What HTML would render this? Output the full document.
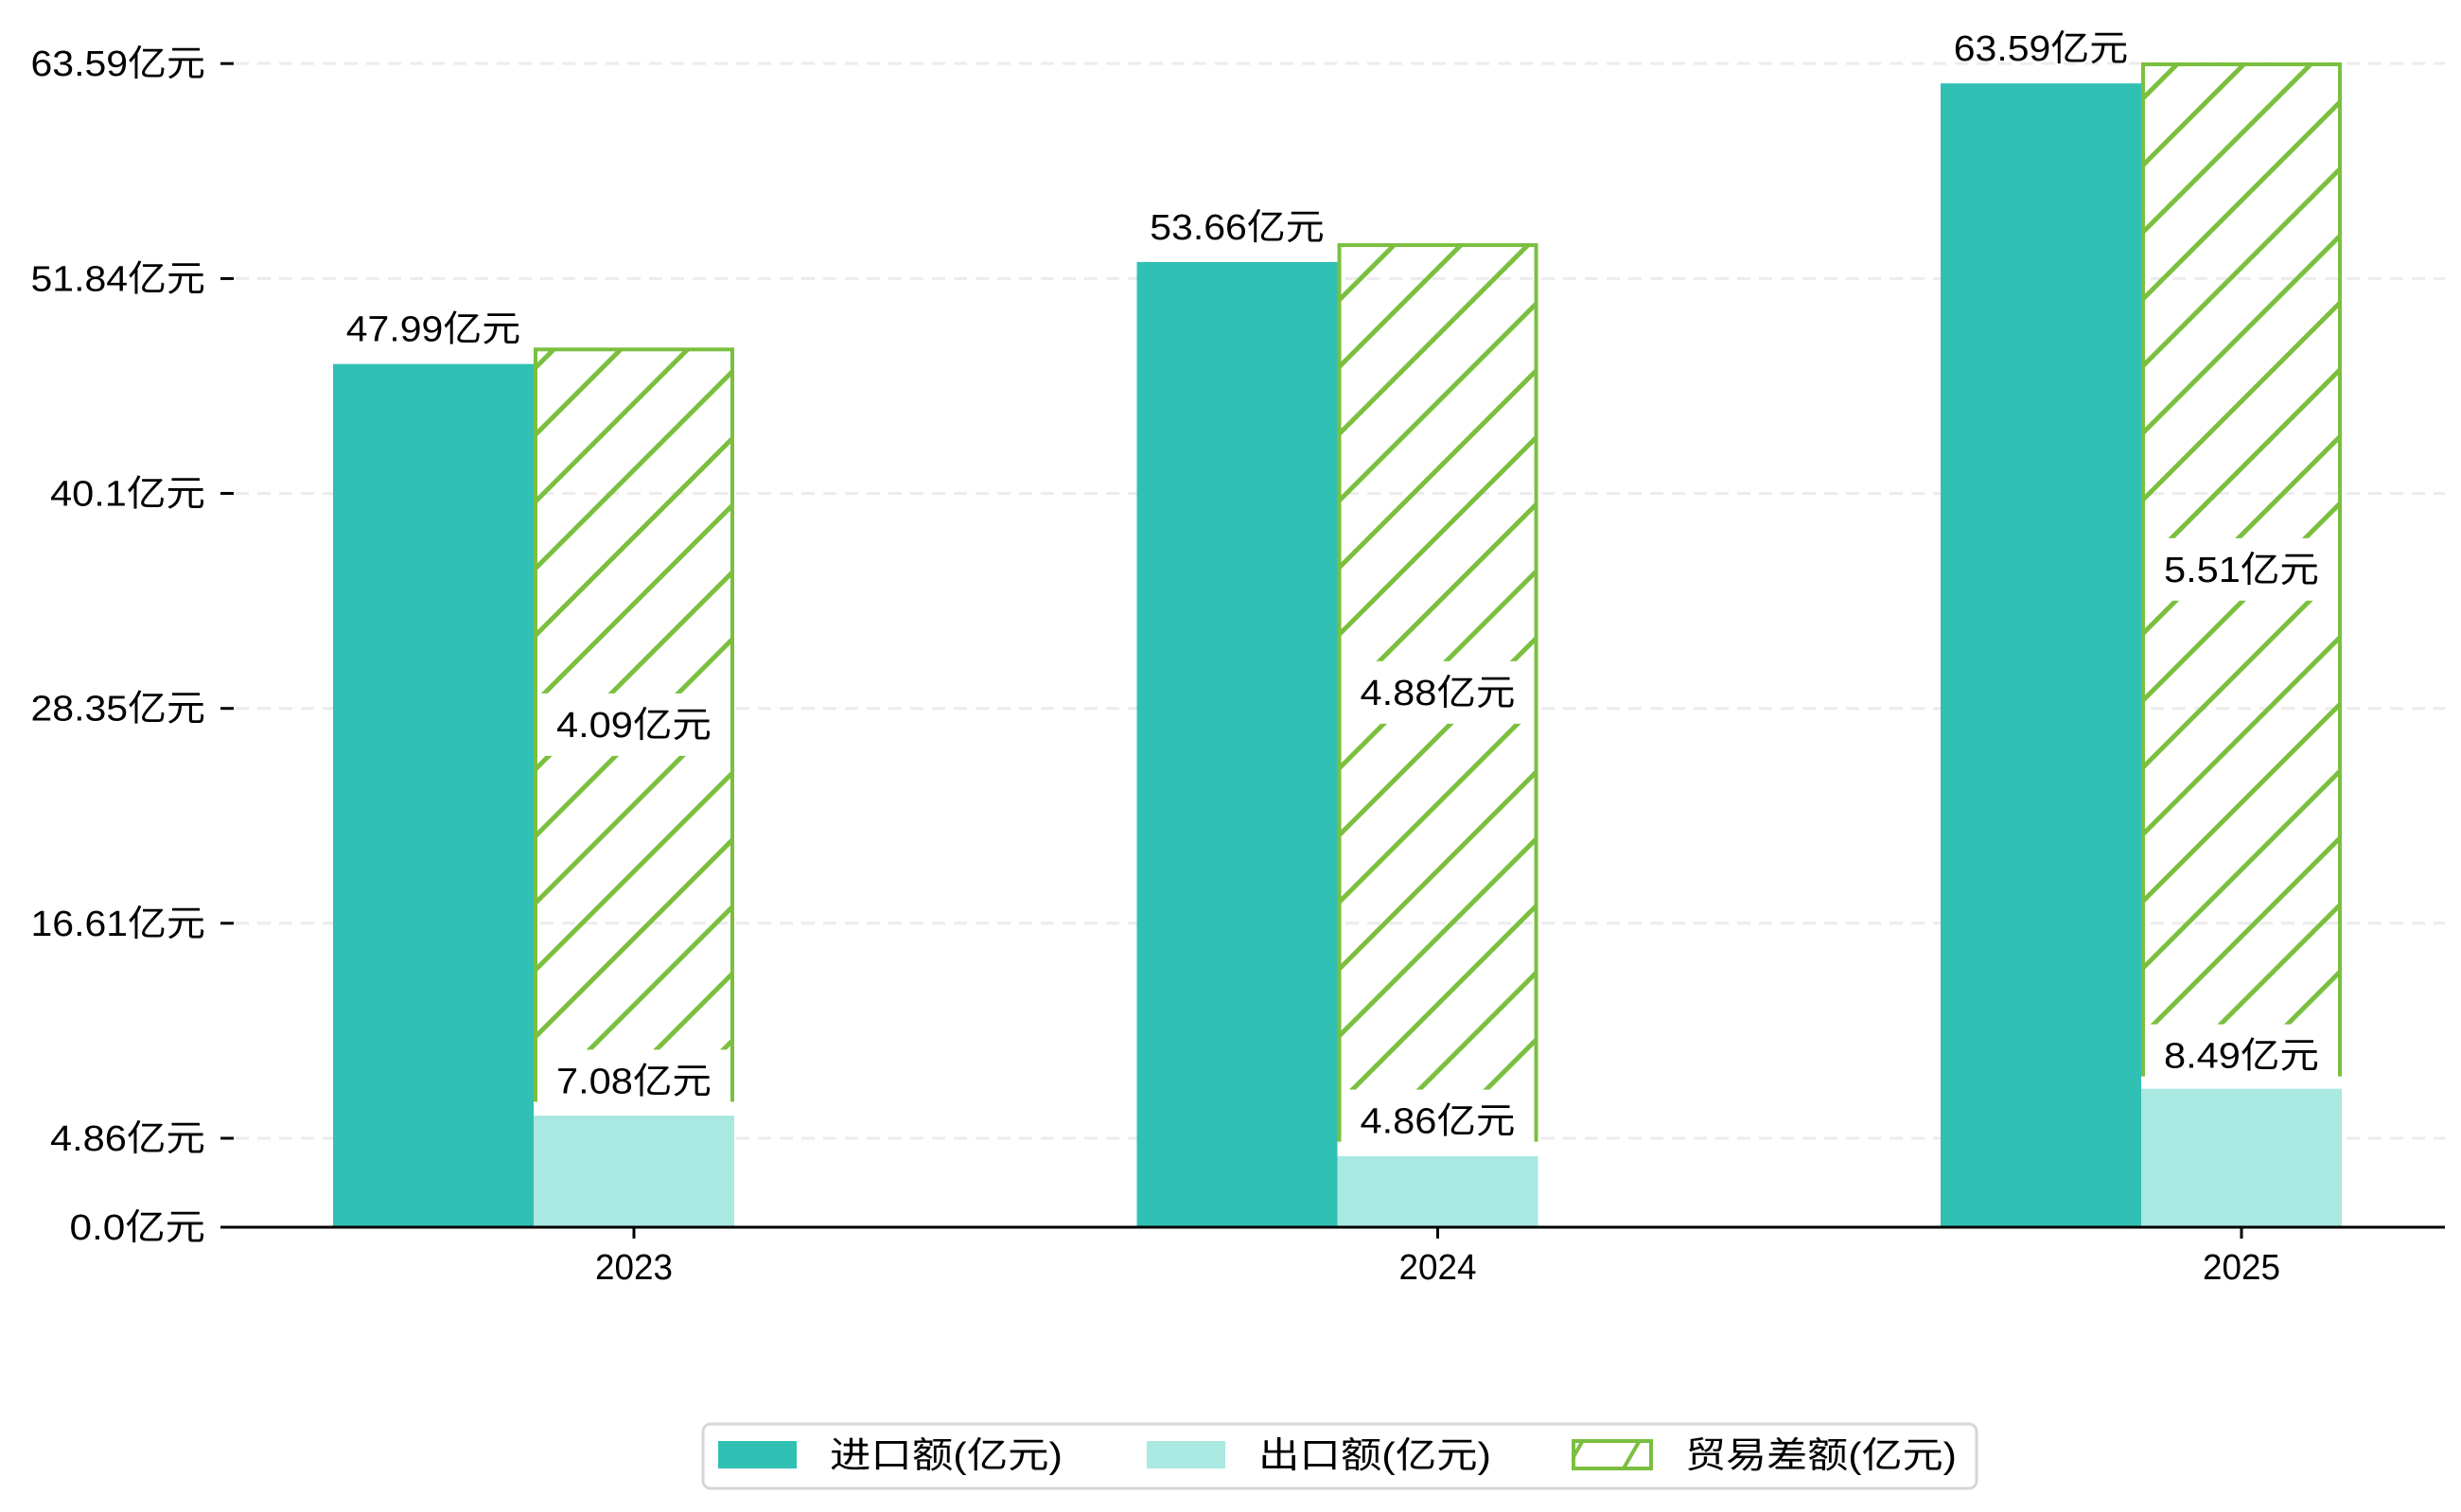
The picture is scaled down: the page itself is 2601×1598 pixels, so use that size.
<!DOCTYPE html>
<html><head><meta charset="utf-8"><style>
html,body{margin:0;padding:0;background:#fff;}
svg{display:block;}
text{font-family:"Liberation Sans","Noto Sans CJK SC",sans-serif;fill:#000;}
</style></head><body>
<svg id="chart" width="2601" height="1598" viewBox="0 0 2601 1598" xmlns="http://www.w3.org/2000/svg">
<defs>
<pattern id="hatch" patternUnits="userSpaceOnUse" width="50" height="50" patternTransform="rotate(45)">
<line x1="0" y1="0" x2="0" y2="50" stroke="#7bbf3f" stroke-width="5" transform="translate(25,0)"/>
</pattern>
<pattern id="hatchLegend" patternUnits="userSpaceOnUse" width="52" height="52" patternTransform="rotate(30)">
<line x1="26" y1="0" x2="26" y2="52" stroke="#7bbf3f" stroke-width="4"/>
</pattern>
</defs>
<g id="grid"></g>
<g id="bars"></g>
<g id="axes"></g>
<g id="labels"></g>
<g id="legend">
<rect x="743" y="1505" width="1346" height="68" rx="8" fill="#fff" stroke="#d6d6d6" stroke-width="3"/>
<g>
<rect x="759" y="1523" width="83" height="29" fill="#30c0b4"/>
<text class="fit" x="877" y="1551" font-size="38">进口额(亿元)</text></g>
<g>
<rect x="1212" y="1523" width="83" height="29" fill="#aae8e2"/>
<text class="fit" x="1330" y="1551" font-size="38">出口额(亿元)</text></g>
<g>
<rect x="1663" y="1523" width="82" height="29" fill="url(#hatchLegend)" stroke="#7bbf3f" stroke-width="4"/>
<text class="fit" x="1781" y="1551" font-size="38">贸易差额(亿元)</text></g>
</g>
</svg>
<script>
const categories = ["2023", "2024", "2025"];
const importValues = [47.99, 53.66, 63.59];
const importLabels = ["47.99亿元", "53.66亿元", "63.59亿元"];
const exportValues = [6.2, 3.95, 7.7];
const exportLabels = ["7.08亿元", "4.86亿元", "8.49亿元"];
const balanceBottom = [7.08, 4.86, 8.49];
const balanceTop = [48.8, 54.6, 64.65];
const balanceLabels = ["4.09亿元", "4.88亿元", "5.51亿元"];
const tickValues = [0, 4.86, 16.61, 28.35, 40.1, 51.84, 63.59];
const tickLabels = ["0.0亿元", "4.86亿元", "16.61亿元", "28.35亿元", "40.1亿元", "51.84亿元", "63.59亿元"];

const NS = "http://www.w3.org/2000/svg";
const Y0 = 1297, X_LEFT = 233, X_RIGHT = 2584;
function y(v){ return Y0 - v * 19.01; }
function yTick(v){ return Y0 - v * 19.34; }
function xCenter(i){ return 670 + i * 849.5; }
const BW = 212;
function fitText(t){
  let w = 0;
  for (const ch of t.textContent) w += ch.charCodeAt(0) < 256 ? 20.5 : 41;
  t.setAttribute('textLength', w);
  t.setAttribute('lengthAdjust', 'spacingAndGlyphs');
}
function mk(tag, attrs, parent){
  const e = document.createElementNS(NS, tag);
  for (const k in attrs) e.setAttribute(k, attrs[k]);
  parent.appendChild(e);
  return e;
}
const grid = document.getElementById('grid');
const bars = document.getElementById('bars');
const axes = document.getElementById('axes');
const labels = document.getElementById('labels');

tickValues.forEach((v, i) => {
  const ty = yTick(v);
  if (v > 0) {
    const g = mk('line', {x1: 249, x2: X_RIGHT, y1: ty, y2: ty, stroke: '#ececec', 'stroke-width': 3, 'stroke-dasharray': '14 9'}, grid);
    
    
  }
  const tm = mk('line', {x1: 233, x2: 247, y1: ty, y2: ty, stroke: '#000', 'stroke-width': 3}, axes);
  
  
  const t = mk('text', {x: 217, y: ty + 13, 'font-size': 38, 'text-anchor': 'end'}, axes);
  
  
  t.textContent = tickLabels[i];
  fitText(t);
});

categories.forEach((c, i) => {
  const cx = xCenter(i);
  const imp = mk('rect', {x: cx - BW/2 - BW, y: y(importValues[i]), width: BW, height: Y0 - y(importValues[i]), fill: '#30c0b4'}, bars);
  
  
  const ex = mk('rect', {x: cx - BW/2, y: y(exportValues[i]), width: BW, height: Y0 - y(exportValues[i]), fill: '#aae8e2'}, bars);
  
  
  const bt = y(balanceTop[i]), bb = y(balanceBottom[i]);
  const bal = mk('rect', {x: cx - BW/2 + 2, y: bt, width: BW - 4, height: bb - bt, fill: 'url(#hatch)', stroke: '#7bbf3f', 'stroke-width': 4}, bars);
  
  

  const il = mk('text', {x: cx - BW, y: y(importValues[i]) - 24, 'font-size': 38, 'text-anchor': 'middle'}, labels);
  
  
  il.textContent = importLabels[i];
  fitText(il);

  const my = (bt + bb) / 2;
  const bbox = mk('rect', {x: cx - BW/2 + 4, y: my - 33, width: BW - 8, height: 66, fill: '#fff'}, labels);
  
  
  const bl = mk('text', {x: cx, y: my + 13, 'font-size': 38, 'text-anchor': 'middle'}, labels);
  
  
  bl.textContent = balanceLabels[i];
  fitText(bl);

  const ey = y(balanceBottom[i]) - 20;
  const ebox = mk('rect', {x: cx - BW/2 + 4, y: ey - 33, width: BW - 8, height: 66, fill: '#fff'}, labels);
  
  
  const el = mk('text', {x: cx, y: ey + 13, 'font-size': 38, 'text-anchor': 'middle'}, labels);
  
  
  el.textContent = exportLabels[i];
  fitText(el);

  const xt = mk('line', {x1: cx, x2: cx, y1: Y0, y2: Y0 + 12, stroke: '#000', 'stroke-width': 3}, axes);
  
  
  const xl = mk('text', {x: cx, y: Y0 + 55, 'font-size': 38, 'text-anchor': 'middle'}, axes);
  
  
  xl.textContent = c;
  fitText(xl);
});
const ax = mk('line', {x1: X_LEFT, x2: X_RIGHT, y1: Y0, y2: Y0, stroke: '#000', 'stroke-width': 3}, axes);


document.querySelectorAll('text.fit').forEach(fitText);
</script>
</body></html>
